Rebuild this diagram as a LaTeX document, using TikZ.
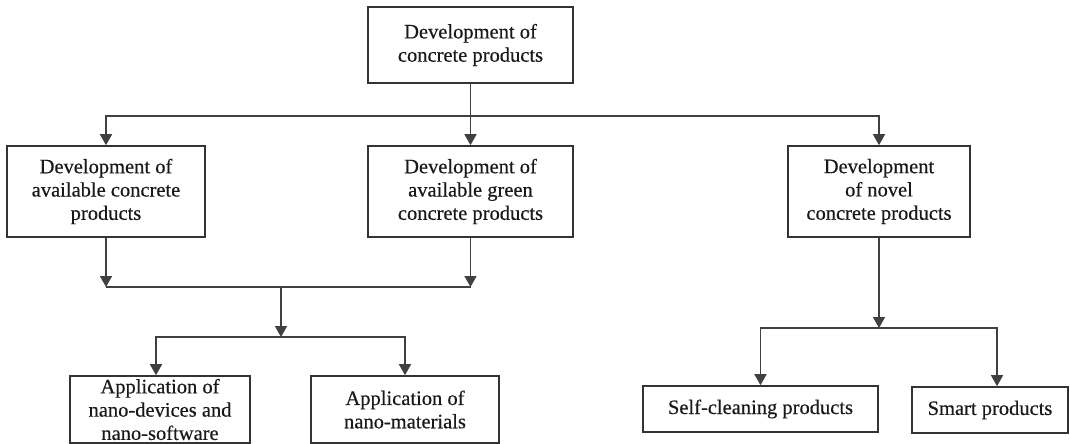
\documentclass[tikz,border=0pt]{standalone}
\usepackage{fontspec}
\setmainfont{Liberation Serif}
\newfontfamily\boxfont{Liberation Serif}[FakeBold=0.4]
\usetikzlibrary{arrows.meta}

\tikzset{
  box/.style={draw=black!80, line width=1.6pt, fill=white, align=center, inner sep=0pt,
    font=\boxfont\fontsize{20.5}{23.3}\selectfont, text=black!90},
  link/.style={draw=black!75, line width=1.6pt},
  arr/.style={link, -{Triangle[width=12pt,length=11pt]}}
}

\begin{document}
\begin{tikzpicture}[x=1pt,y=-1pt]
    \useasboundingbox (0,0) rectangle (1070,444);

    % top of the tree
    \node[box, minimum width=205, minimum height=76] (top) at (470.5,45) {Development of\\concrete products};

    % second row
    \node[box, minimum width=198, minimum height=91] (avail) at (106,191.5) {Development of\\available concrete\\products};
    \node[box, minimum width=205, minimum height=91] (green) at (470.5,191.5) {Development of\\available green\\concrete products};
    \node[box, minimum width=182, minimum height=91] (novel) at (879,191.5) {Development\\of novel\\concrete products};

    % bottom row
    \node[box, minimum width=180, minimum height=67] (nanodev) at (160,409.5) {Application of\\nano-devices and\\nano-software};
    \node[box, minimum width=188, minimum height=67] (nanomat) at (405,409.5) {Application of\\nano-materials};
    \node[box, minimum width=235, minimum height=46] (selfclean) at (760.5,409) {Self-cleaning products};
    \node[box, minimum width=156, minimum height=46] (smart) at (990,410) {Smart products};

    % junction points
    \coordinate (split) at (470.5,116);
    \coordinate (merge) at (281,287);
    \coordinate (fork) at (281,337);
    \coordinate (rfork) at (879,328);

    % top to second row
    \draw[arr] (top) -- (green);
    \draw[arr] (split) -| (avail.north);
    \draw[arr] (split) -| (novel.north);

    % left branch
    \draw[arr] (avail.south) -- (avail.south |- merge);
    \draw[arr] (green.south) -- (green.south |- merge);
    \draw[link] (avail.south |- merge) -- (green.south |- merge);
    \draw[arr] (merge) -- (fork);
    \draw[arr] (fork) -| ([xshift=-4pt]nanodev.north);
    \draw[arr] (fork) -| (nanomat.north);

    % right branch
    \draw[arr] (novel) -- (rfork);
    \draw[arr] (rfork) -| (selfclean.north);
    \draw[arr] (rfork) -| ([xshift=7pt]smart.north);
\end{tikzpicture}
\end{document}
